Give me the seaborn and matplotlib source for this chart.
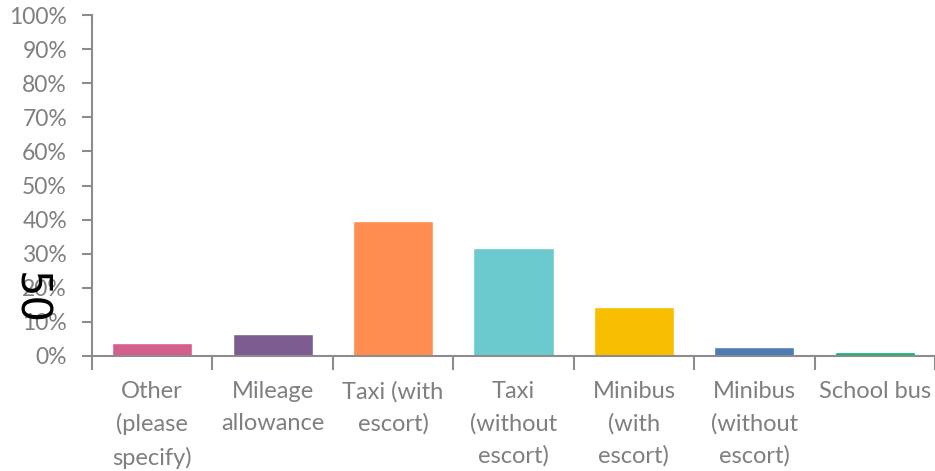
import matplotlib
matplotlib.use("Agg")
import matplotlib.pyplot as plt
import seaborn as sns
import pandas as pd
import numpy as np

categories = ["Other\n(please\nspecify)", "Mileage\nallowance", "Taxi (with\nescort)",
              "Taxi\n(without\nescort)", "Minibus\n(with\nescort)", "Minibus\n(without\nescort)",
              "School bus"]
values = [3.8, 6.5, 39.6, 31.7, 14.4, 2.6, 1.2]
colors = ["#D45E8C", "#7E5C91", "#FF8C50", "#6BCACD", "#F8BE00", "#4E7AB5", "#00BA6E"]
yticks = list(range(0, 101, 10))
ytick_labels = [f"{t}%" for t in yticks]

sns.set_theme(style="white")
plt.rcParams['font.family'] = ['Lato', 'DejaVu Sans']

df = pd.DataFrame({"cat": categories, "val": values})
fig = plt.figure(figsize=(9.35, 4.71), dpi=100)
ax = fig.add_axes([92/935, 1 - 356/471, 843/935, 341/471])
sns.barplot(data=df, x="cat", y="val", hue="cat", palette=colors, legend=False,
            width=0.665, ax=ax, saturation=1)

ax.set_ylim(0, 100)
ax.set_xlim(-0.5, len(categories) - 0.5)
ax.set_yticks(yticks)
ax.set_yticklabels(ytick_labels)
ax.set_xlabel("")
ax.set_ylabel("")
grey = "#8C8C8C"
for s in ["top", "right"]:
    ax.spines[s].set_visible(False)
for s in ["left", "bottom"]:
    ax.spines[s].set_color(grey)
    ax.spines[s].set_linewidth(1.5)
ax.tick_params(axis="y", direction="out", length=7, width=1.5, color=grey,
               labelcolor="#7F7F7F", labelsize=16.5, pad=11, left=True)
ax.set_xticks(np.arange(len(categories)))
ax.set_xticklabels(categories, fontsize=17, color="#7F7F7F", linespacing=1.62)
ax.tick_params(axis="x", length=0, pad=18)
# minor ticks between categories
ax.set_xticks(np.arange(-0.5, len(categories), 1), minor=True)
ax.tick_params(axis="x", which="minor", direction="out", length=10, width=1.5, color=grey, bottom=True)

fig.text(29/935, 1 - 298/471, "50", rotation=270, fontsize=30, color="black",
         ha="center", va="center", family="DejaVu Sans")

fig.savefig("out.png", dpi=100)
